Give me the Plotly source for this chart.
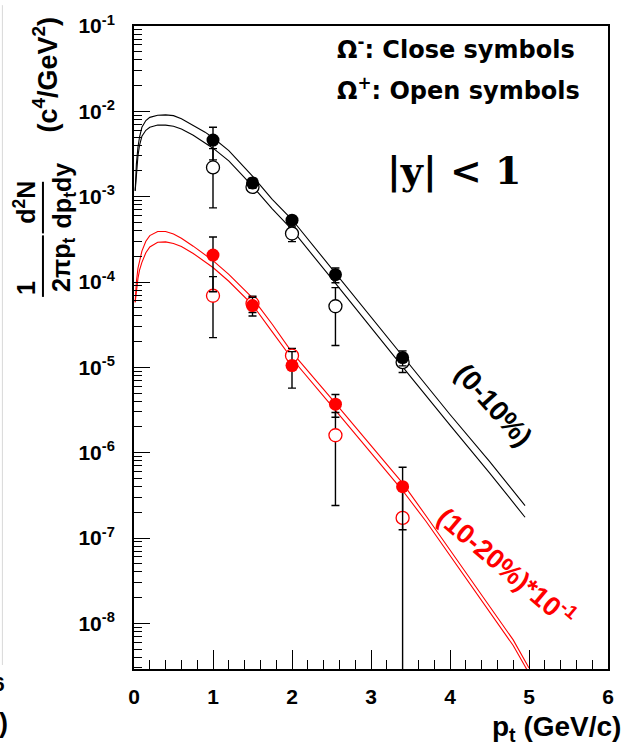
import plotly.graph_objects as go

# ---- measured spectra: Omega- (closed) and Omega+ (open), |y| < 1 ----
pt_points = [1.0, 1.5, 2.0, 2.55, 3.4]

# 0-10 % centrality
omm_0_10 = [4.6e-3, 1.45e-3, 5.3e-4, 1.22e-4, 1.3e-5]
omm_0_10_err = [1.9e-3, 2.0e-4, 6.0e-5, 2.4e-5, 2.6e-6]
omp_0_10 = [2.2e-3, 1.3e-3, 3.7e-4, 5.2e-5, 1.15e-5]
omp_0_10_err = [1.46e-3, 1.5e-4, 7.3e-5, 3.4e-5, 2.8e-6]

# 10-20 % centrality, scaled by 10^-1
omm_10_20 = [2.07e-4, 5.3e-5, 1.05e-5, 3.7e-6, 4.0e-7]
omm_10_20_err = [1.3e-4, 1.3e-5, 4.8e-6, 1.1e-6, 2.75e-7]
omp_10_20 = [6.9e-5, 5.6e-5, 1.37e-5, 1.6e-6, 1.72e-7]
omp_10_20_err_up = [4.67e-5, 1.2e-5, 3.0e-6, 1.36e-6, 2.3e-7]
omp_10_20_err_dn = [4.67e-5, 1.2e-5, 3.0e-6, 1.36e-6, 5.0e-7]

# ---- model curves (upper / lower edge of each band) ----
pt_curve = [0.015, 0.03, 0.05, 0.07, 0.1, 0.15, 0.2, 0.3, 0.4, 0.5, 0.6, 0.75,
            0.9, 1.0, 1.2, 1.5, 1.75, 2.0, 2.5, 3.0, 3.4, 3.5, 4.0, 4.5, 4.95]
band_0_10_hi = [1.17e-3, 2.4e-3, 3.8e-3, 5.0e-3, 6.5e-3, 7.8e-3, 8.5e-3, 9.0e-3,
                9.1e-3, 8.9e-3, 8.2e-3, 6.9e-3, 5.7e-3, 4.9e-3, 3.47e-3, 1.74e-3,
                9.3e-4, 5.4e-4, 1.45e-4, 3.8e-5, 1.35e-5, 1.05e-5, 2.8e-6, 7.9e-7, 2.4e-7]
band_0_10_lo = [1.17e-3, 1.9e-3, 3.0e-3, 4.0e-3, 5.1e-3, 6.0e-3, 6.5e-3, 6.9e-3,
                6.9e-3, 6.7e-3, 6.2e-3, 5.25e-3, 4.3e-3, 3.7e-3, 2.63e-3, 1.33e-3,
                7.2e-4, 4.1e-4, 1.1e-4, 2.9e-5, 1.0e-5, 7.8e-6, 2.1e-6, 5.8e-7, 1.75e-7]

pt_curve_r = [0.015, 0.03, 0.05, 0.07, 0.1, 0.15, 0.2, 0.3, 0.4, 0.5, 0.6, 0.75,
              0.9, 1.0, 1.2, 1.5, 1.75, 2.0, 2.5, 3.0, 3.4, 3.7, 4.0, 4.5, 4.8, 5.0]
band_10_20_hi = [5.8e-5, 1.0e-4, 1.45e-4, 1.8e-4, 2.3e-4, 3.0e-4, 3.5e-4, 3.9e-4,
                 3.9e-4, 3.65e-4, 3.25e-4, 2.63e-4, 2.1e-4, 1.78e-4, 1.23e-4, 6.5e-5,
                 3.2e-5, 1.5e-5, 4.3e-6, 1.2e-6, 4.4e-7, 1.8e-7, 7.2e-8, 1.6e-8, 6.4e-9, 3.0e-9]
band_10_20_lo = [5.8e-5, 7.9e-5, 1.1e-4, 1.38e-4, 1.7e-4, 2.2e-4, 2.57e-4, 2.92e-4,
                 2.95e-4, 2.82e-4, 2.6e-4, 2.16e-4, 1.74e-4, 1.48e-4, 1.02e-4, 5.4e-5,
                 2.6e-5, 1.26e-5, 3.55e-6, 1.0e-6, 3.6e-7, 1.55e-7, 6.2e-8, 1.35e-8, 5.5e-9, 2.6e-9]

# ---- axis ticks ----
x_ticks = [0, 1, 2, 3, 4, 5, 6]
x_minor = [0.2, 0.4, 0.6, 0.8, 1.2, 1.4, 1.6, 1.8, 2.2, 2.4, 2.6, 2.8,
           3.2, 3.4, 3.6, 3.8, 4.2, 4.4, 4.6, 4.8, 5.2, 5.4, 5.6, 5.8]
y_exponents = [-8, -7, -6, -5, -4, -3, -2, -1]
y_ticks = [10.0 ** e for e in y_exponents]
y_ticktext = ["10<sup>%d</sup>" % e for e in y_exponents]
y_minor = [m * 10.0 ** e for e in range(-9, -1) for m in range(2, 10)]

BLACK = "#000000"
RED = "#ff0000"
SANS = "Liberation Sans"
WIDE = "DejaVu Sans"
SERIF = "DejaVu Serif"

W, H = 626, 748
L, R, T, B = 134, 13, 21, 79


def px(x):
    return (x - L) / (W - L - R)


def py(y):
    return (H - B - y) / (H - T - B)


fig = go.Figure()

# model bands
for xs, ys, col in [(pt_curve, band_0_10_hi, BLACK), (pt_curve, band_0_10_lo, BLACK),
                    (pt_curve_r, band_10_20_hi, RED), (pt_curve_r, band_10_20_lo, RED)]:
    fig.add_trace(go.Scatter(x=xs, y=ys, mode="lines",
                             line=dict(color=col, width=1.1), hoverinfo="skip"))

err_style = dict(type="data", color=BLACK, thickness=1.4, width=4)

# 0-10 %: open then closed
fig.add_trace(go.Scatter(
    x=pt_points, y=omp_0_10, mode="markers",
    marker=dict(symbol="circle", size=13, color="white", line=dict(color=BLACK, width=1.3)),
    error_y=dict(array=omp_0_10_err, arrayminus=omp_0_10_err, **err_style)))
fig.add_trace(go.Scatter(
    x=pt_points, y=omm_0_10, mode="markers",
    marker=dict(symbol="circle", size=13, color=BLACK, line=dict(width=0)),
    error_y=dict(array=omm_0_10_err, arrayminus=omm_0_10_err, **err_style)))

# 10-20 %: open then closed
fig.add_trace(go.Scatter(
    x=pt_points, y=omp_10_20, mode="markers",
    marker=dict(symbol="circle", size=13, color="white", line=dict(color=RED, width=1.3)),
    error_y=dict(array=omp_10_20_err_up, arrayminus=omp_10_20_err_dn, **err_style)))
fig.add_trace(go.Scatter(
    x=pt_points, y=omm_10_20, mode="markers",
    marker=dict(symbol="circle", size=13, color=RED, line=dict(width=0)),
    error_y=dict(array=omm_10_20_err, arrayminus=omm_10_20_err, **err_style)))

tickfont = dict(family=SANS, size=21, color=BLACK, weight="bold")

fig.update_xaxes(
    range=[0, 6], tickmode="array", tickvals=x_ticks, ticktext=[str(v) for v in x_ticks],
    ticks="inside", ticklen=19, tickwidth=1.4, tickcolor=BLACK,
    minor=dict(tickmode="array", tickvals=x_minor, ticks="inside", ticklen=9,
               tickwidth=1.2, tickcolor=BLACK, showgrid=False),
    showline=True, linewidth=2, linecolor=BLACK, mirror=True,
    showgrid=False, zeroline=False, tickfont=tickfont, ticklabelstandoff=8)

fig.update_yaxes(
    type="log", range=[-8.535, -1], tickmode="array", tickvals=y_ticks, ticktext=y_ticktext,
    ticks="inside", ticklen=16, tickwidth=1.4, tickcolor=BLACK,
    minor=dict(tickmode="array", tickvals=y_minor, ticks="inside", ticklen=8,
               tickwidth=1.2, tickcolor=BLACK, showgrid=False),
    showline=True, linewidth=2, linecolor=BLACK, mirror=True,
    showgrid=False, zeroline=False, tickfont=tickfont, ticklabelstandoff=13)

annotations = []


def note(text, x, y, size, color=BLACK, angle=0, family=SANS, xanchor="center",
         yanchor="middle", bold=True):
    annotations.append(dict(
        text=text, x=px(x), y=py(y), xref="paper", yref="paper", showarrow=False,
        textangle=angle, xanchor=xanchor, yanchor=yanchor,
        font=dict(family=family, size=size, color=color, weight="bold" if bold else "normal")))


# legend-style notes
note("Ω<sup>-</sup>: Close symbols", 337, 43, 24, family=WIDE, xanchor="left")
note("Ω<sup>+</sup>: Open symbols", 337, 84, 24, family=WIDE, xanchor="left")
note("|y| < 1", 457, 167, 38, family=SERIF)

# centrality labels
note("(0-10%)", 498, 403, 28, angle=48)
note("(10-20%)*10<sup>-1</sup>", 511, 565, 27, color=RED, angle=40)

# x-axis title
note("p<sub>t</sub> (GeV/c)", 628, 729, 28, xanchor="right")

# y-axis title, written as two stacked fractions
note("1", 25, 285, 25, angle=-90)
note("2πp<sub>t</sub>", 62, 262, 25, angle=-90)
note("d<sup>2</sup>N", 23, 199, 25, angle=-90)
note("dp<sub>t</sub>dy", 63, 192, 25, angle=-90)
note("(c<sup>4</sup>/GeV<sup>2</sup>)", 44, 70, 27, angle=-90)

# neighbouring panel edge
note("6", 6, 684, 21, xanchor="right")
note(")", 9, 723, 27, xanchor="right")

shapes = [
    dict(type="line", xref="paper", yref="paper", x0=px(42), x1=px(42), y0=py(232), y1=py(294),
         line=dict(color=BLACK, width=2)),
    dict(type="line", xref="paper", yref="paper", x0=px(42), x1=px(42), y0=py(178), y1=py(230),
         line=dict(color=BLACK, width=2)),
    dict(type="line", xref="paper", yref="paper", x0=px(1), x1=px(1), y0=py(0), y1=py(665),
         line=dict(color="#d8d8d8", width=1)),
]

fig.update_layout(
    width=W, height=H, margin=dict(l=L, r=R, t=T, b=B, pad=0),
    paper_bgcolor="white", plot_bgcolor="white", showlegend=False,
    annotations=annotations, shapes=shapes)

fig.write_html("out.html")
